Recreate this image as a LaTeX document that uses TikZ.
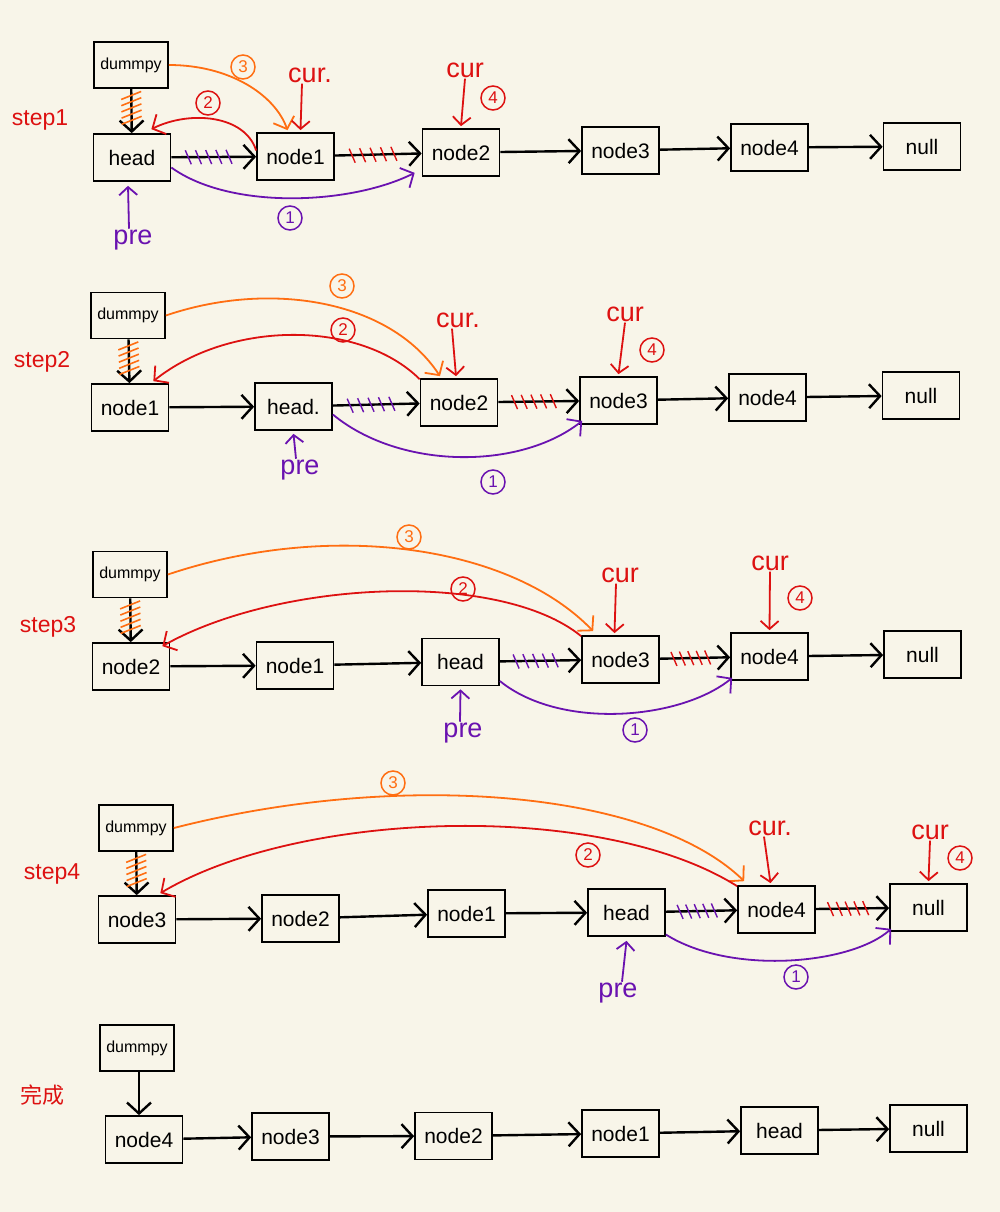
\documentclass[tikz,border=0pt]{standalone}
\usepackage{fontspec}
\setmainfont{Liberation Sans}
\newfontfamily\cjk{Noto Sans CJK SC}
\usetikzlibrary{arrows.meta,calc}
\definecolor{bg}{HTML}{F8F5E9}
\definecolor{myred}{HTML}{DD1111}
\definecolor{myorange}{HTML}{FF6E12}
\definecolor{mypurple}{HTML}{6A12B0}
\newcommand\hatchH[3]{\foreach \t in {0.2,0.32,...,0.8} {\draw[#1,line width=1.4pt] ($(#2)!\t!(#3)$) ++(-3,-7) -- ++(6,14);}}
\newcommand\hatchV[3]{\foreach \t in {0.15,0.29,...,0.75} {\draw[#1,line width=1.6pt] ($(#2)!\t!(#3)$) ++(10,-4) -- ++(-20,8);}}
\begin{document}
\begin{tikzpicture}[x=1pt,y=-1pt,
  box/.style={draw=black,line width=1.7pt,minimum width=77pt,minimum height=47pt,inner sep=0pt,font=\fontsize{21}{24}\selectfont},
  dbox/.style={box,minimum width=74pt,minimum height=46pt,font=\fontsize{16}{18}\selectfont},
  link/.style={draw=black,line width=2.4pt,-{Straight Barb[length=11pt,width=24pt]}},
  curve/.style={line width=1.8pt,-{Straight Barb[length=10pt,width=22pt]}},
  ptr/.style={line width=1.8pt,-{Straight Barb[length=8pt,width=18pt]}},
  lbl/.style={inner sep=1pt,font=\fontsize{27}{30}\selectfont},
  steplbl/.style={inner sep=1pt,text=myred,font=\fontsize{23}{26}\selectfont},
  cnum/.style={circle,draw,line width=1.5pt,inner sep=0.5pt,minimum size=24pt,font=\fontsize{17}{19}\selectfont}
]
\path[fill=bg] (0,0) rectangle (1000,1212);

% ---------------- Row 1 ----------------
\node[steplbl] (s1) at (40,120) {step1};
\node[dbox] (d1) at (131,65) {dummpy};
\node[box] (h1) at (132,157.5) {head};
\node[box] (a1) at (295.5,156.5) {node1};
\node[box] (b1) at (461,152.5) {node2};
\node[box] (c1) at (620.5,150.5) {node3};
\node[box] (e1) at (769.5,147.5) {node4};
\node[box] (z1) at (922,146.5) {null};
\draw[link] (d1) -- (h1);
\draw[link] (h1) -- (a1);
\draw[link] (a1) -- (b1);
\draw[link] (b1) -- (c1);
\draw[link] (c1) -- (e1);
\draw[link] (e1) -- (z1);
\hatchV{myorange}{d1.south}{h1.north}
\hatchH{mypurple}{h1.east}{a1.west}
\hatchH{myred}{a1.east}{b1.west}
\node[cnum,myorange] (o1) at (243,67) {3};
\node[cnum,myred] (r1) at (208,103) {2};
\node[cnum,mypurple] (p1n) at (290,218) {1};
\node[cnum,myred] (f1) at (493,98) {4};
\draw[curve,myorange] (d1.east) .. controls (230,65) and (275,95) .. ([xshift=-8pt,yshift=2pt]a1.north);
\draw[curve,myred] ([yshift=6pt]a1.west) .. controls (245,115) and (190,110) .. ([xshift=-20pt,yshift=4pt]h1.north east);
\draw[curve,mypurple] ([yshift=-10pt]h1.east) .. controls (230,210) and (350,205) .. ([xshift=-7pt,yshift=4pt]b1.south west);
\node[lbl,myred] (cu1a) at (310,75) {cur.};
\node[lbl,myred] (cu1b) at (465,70) {cur};
\draw[ptr,myred] ([xshift=-8pt]cu1a.south) -- ([xshift=5pt,yshift=2pt]a1.north);
\draw[ptr,myred] (cu1b.south) -- ([yshift=2pt]b1.north);
\node[lbl,mypurple] (pr1) at (133,240) {pre};
\draw[ptr,mypurple] ([xshift=-4pt]pr1.north) -- ([xshift=-4pt,yshift=-4pt]h1.south);

% ---------------- Row 2 ----------------
\node[steplbl] (s2) at (42,362) {step2};
\node[dbox] (d2) at (128,315.5) {dummpy};
\node[box] (a2) at (130,407.5) {node1};
\node[box] (h2) at (293.5,406.5) {head.};
\node[box] (b2) at (459,402.5) {node2};
\node[box] (c2) at (618.5,400.5) {node3};
\node[box] (e2) at (767.5,397.5) {node4};
\node[box] (z2) at (921,395.5) {null};
\draw[link] (d2) -- (a2);
\draw[link] (a2) -- (h2);
\draw[link] (h2) -- (b2);
\draw[link] (b2) -- (c2);
\draw[link] (c2) -- (e2);
\draw[link] (e2) -- (z2);
\hatchV{myorange}{d2.south}{a2.north}
\hatchH{mypurple}{h2.east}{b2.west}
\hatchH{myred}{b2.east}{c2.west}
\node[cnum,myorange] (o2) at (342,286) {3};
\node[cnum,myred] (r2) at (343,330) {2};
\node[cnum,mypurple] (p2n) at (493,482) {1};
\node[cnum,myred] (f2) at (652,350) {4};
\draw[curve,myorange] (d2.east) .. controls (270,280) and (390,300) .. ([xshift=-19pt,yshift=2pt]b2.north);
\draw[curve,myred] ([yshift=-1pt]b2.north west) .. controls (360,320) and (230,320) .. ([xshift=-16pt,yshift=2pt]a2.north east);
\draw[curve,mypurple] ([yshift=-8pt]h2.east) .. controls (400,470) and (520,470) .. ([xshift=3pt,yshift=4pt]c2.south west);
\node[lbl,myred] (cu2a) at (458,320) {cur.};
\node[lbl,myred] (cu2b) at (625,314) {cur};
\draw[ptr,myred] ([xshift=-6pt]cu2a.south) -- ([xshift=-3pt,yshift=2pt]b2.north);
\draw[ptr,myred] (cu2b.south) -- ([yshift=2pt]c2.north);
\node[lbl,mypurple] (pr2) at (300,470) {pre};
\draw[ptr,mypurple] ([xshift=-4pt]pr2.north) -- ([yshift=-3pt]h2.south);

% ---------------- Row 3 ----------------
\node[steplbl] (s3) at (48,627) {step3};
\node[dbox] (d3) at (130,574.5) {dummpy};
\node[box] (a3) at (131,666.5) {node2};
\node[box] (b3) at (295,665.5) {node1};
\node[box] (h3) at (460.5,662) {head};
\node[box] (c3) at (620.5,659.5) {node3};
\node[box] (e3) at (769.5,656.5) {node4};
\node[box] (z3) at (922.5,654.5) {null};
\draw[link] (d3) -- (a3);
\draw[link] (a3) -- (b3);
\draw[link] (b3) -- (h3);
\draw[link] (h3) -- (c3);
\draw[link] (c3) -- (e3);
\draw[link] (e3) -- (z3);
\hatchV{myorange}{d3.south}{a3.north}
\hatchH{mypurple}{h3.east}{c3.west}
\hatchH{myred}{c3.east}{e3.west}
\node[cnum,myorange] (o3) at (409,537) {3};
\node[cnum,myred] (r3) at (463,589) {2};
\node[cnum,mypurple] (p3n) at (635,730) {1};
\node[cnum,myred] (f3) at (800,598) {4};
\draw[curve,myorange] (d3.east) .. controls (330,520) and (510,545) .. ([xshift=12pt,yshift=4pt]c3.north west);
\draw[curve,myred] ([yshift=-1pt]c3.north west) .. controls (500,570) and (280,580) .. ([xshift=-8pt,yshift=-4pt]a3.north east);
\draw[curve,mypurple] ([yshift=-19pt]h3.east) .. controls (560,730) and (680,720) .. ([xshift=2pt,yshift=3pt]e3.south west);
\node[lbl,myred] (cu3a) at (620,575) {cur};
\node[lbl,myred] (cu3b) at (770,563) {cur};
\draw[ptr,myred] ([xshift=-4pt]cu3a.south) -- ([xshift=-6pt,yshift=2pt]c3.north);
\draw[ptr,myred] (cu3b.south) -- ([yshift=2pt]e3.north);
\node[lbl,mypurple] (pr3) at (463,733) {pre};
\draw[ptr,mypurple] ([xshift=-3pt]pr3.north) -- ([yshift=-3pt]h3.south);

% ---------------- Row 4 ----------------
\node[steplbl] (s4) at (52,874) {step4};
\node[dbox] (d4) at (136,828) {dummpy};
\node[box] (a4) at (137,919.5) {node3};
\node[box] (b4) at (300.5,918.5) {node2};
\node[box] (f4) at (466.5,913.5) {node1};
\node[box] (h4) at (626.5,912.5) {head};
\node[box] (e4) at (776.5,909.5) {node4};
\node[box] (z4) at (928.5,907.5) {null};
\draw[link] (d4) -- (a4);
\draw[link] (a4) -- (b4);
\draw[link] (b4) -- (f4);
\draw[link] (f4) -- (h4);
\draw[link] (h4) -- (e4);
\draw[link] (e4) -- (z4);
\hatchV{myorange}{d4.south}{a4.north}
\hatchH{mypurple}{h4.east}{e4.west}
\hatchH{myred}{e4.east}{z4.west}
\node[cnum,myorange] (o4) at (393,783) {3};
\node[cnum,myred] (r4) at (588,855) {2};
\node[cnum,mypurple] (p4n) at (796,977) {1};
\node[cnum,myred] (f4n) at (960,858) {4};
\draw[curve,myorange] (d4.east) .. controls (400,770) and (650,790) .. ([xshift=7pt,yshift=4pt]e4.north west);
\draw[curve,myred] ([yshift=-1pt]e4.north west) .. controls (600,800) and (300,810) .. ([xshift=-16pt,yshift=2pt]a4.north east);
\draw[curve,mypurple] ([yshift=-22pt]h4.east) .. controls (730,975) and (850,965) .. ([xshift=2pt,yshift=3pt]z4.south west);
\node[lbl,myred] (cu4a) at (770,828) {cur.};
\node[lbl,myred] (cu4b) at (930,832) {cur};
\draw[ptr,myred] ([xshift=-6pt]cu4a.south) -- ([xshift=-6pt,yshift=2pt]e4.north);
\draw[ptr,myred] (cu4b.south) -- ([yshift=2pt]z4.north);
\node[lbl,mypurple] (pr4) at (618,993) {pre};
\draw[ptr,mypurple] ([xshift=4pt]pr4.north) -- ([yshift=-4pt]h4.south);

% ---------------- Row 5 ----------------
\node[steplbl,font=\cjk\fontsize{22}{26}\selectfont] (s5) at (42,1095) {完成};
\node[dbox] (d5) at (137,1048) {dummpy};
\node[box] (n4) at (144,1139.5) {node4};
\node[box] (n3) at (290.5,1136.5) {node3};
\node[box] (n2) at (453.5,1136) {node2};
\node[box] (n1) at (620.5,1133.5) {node1};
\node[box] (hd) at (779.5,1130.5) {head};
\node[box] (nl) at (928.5,1128.5) {null};
\draw[link] ([xshift=2pt]d5.south) -- ([xshift=-5pt]n4.north);
\draw[link] (n4) -- (n3);
\draw[link] (n3) -- (n2);
\draw[link] (n2) -- (n1);
\draw[link] (n1) -- (hd);
\draw[link] (hd) -- (nl);
\end{tikzpicture}
\end{document}
